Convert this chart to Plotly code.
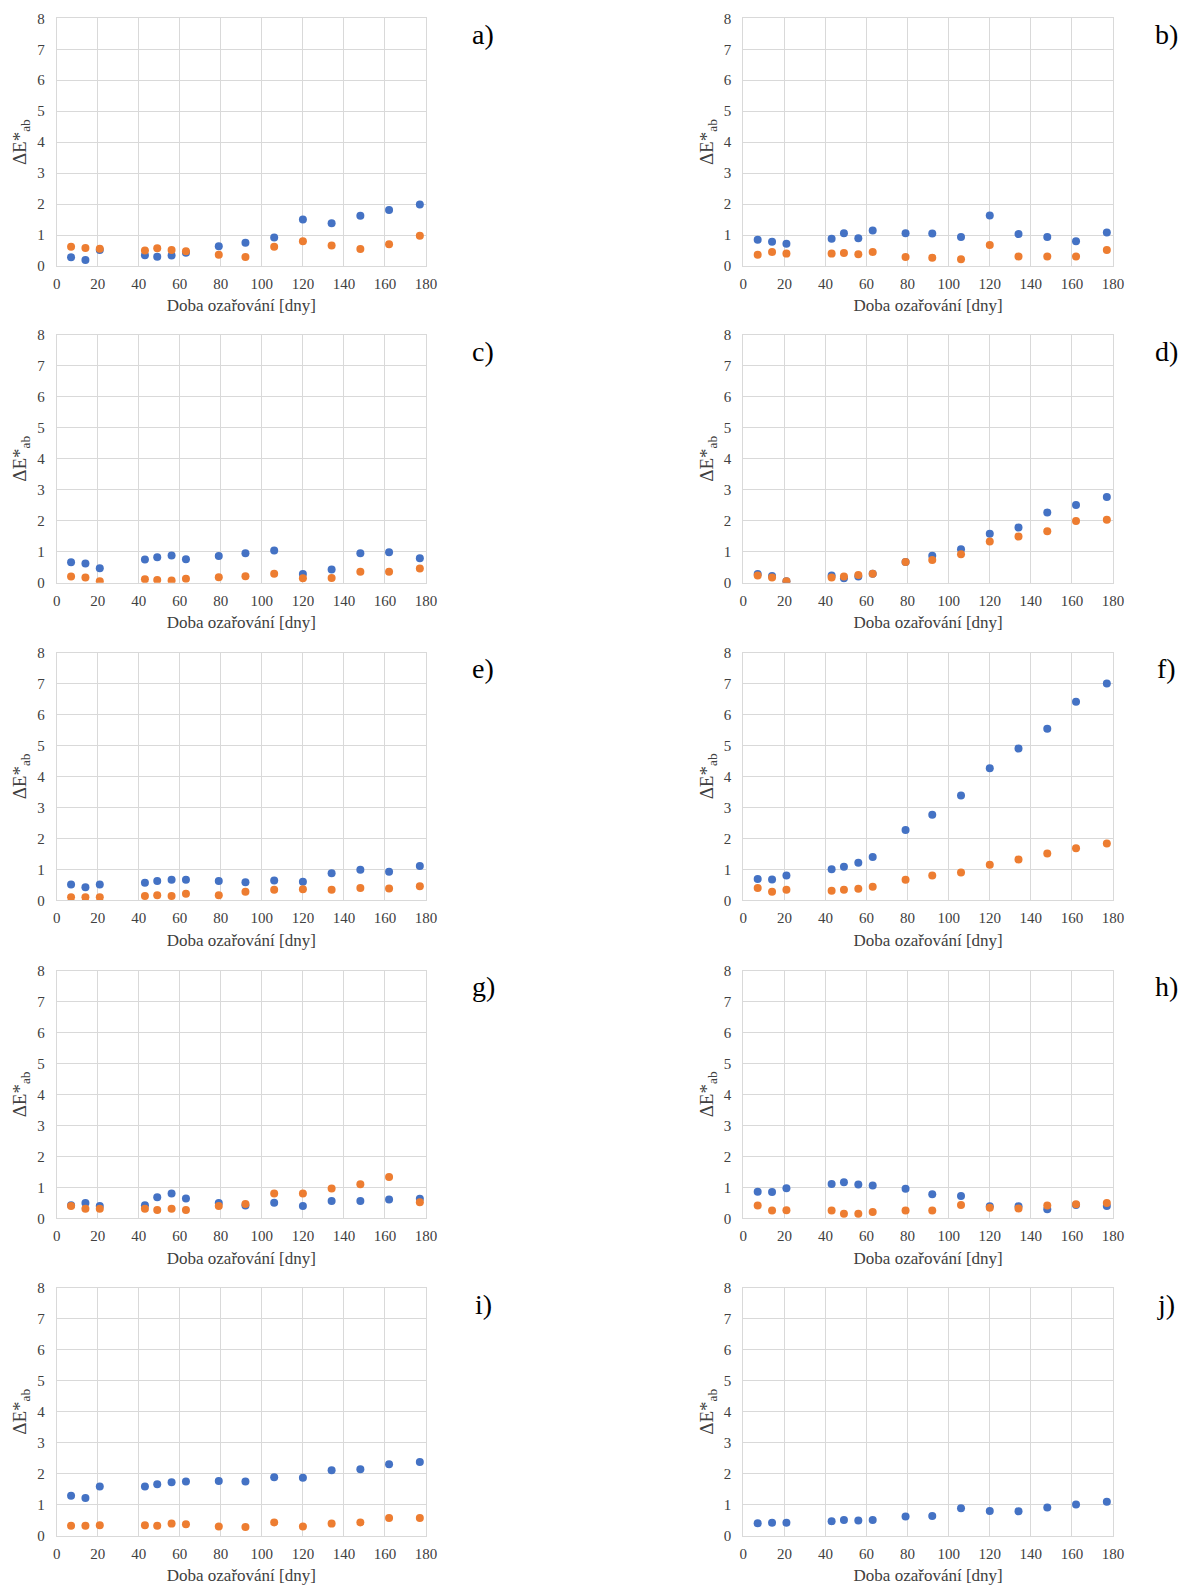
import plotly.graph_objects as go

W, H = 1185, 1585

days = [7, 14, 21, 43, 49, 56, 63, 79, 92, 106, 120, 134, 148, 162, 177]
x_ticks = [0, 20, 40, 60, 80, 100, 120, 140, 160, 180]
y_ticks = [0, 1, 2, 3, 4, 5, 6, 7, 8]
panel_labels = ["a)", "b)", "c)", "d)", "e)", "f)", "g)", "h)", "i)", "j)"]
x_title = "Doba ozařování [dny]"
y_title = "ΔE*<sub>ab</sub>"

a_blue = [0.28, 0.19, 0.52, 0.35, 0.30, 0.34, 0.43, 0.64, 0.75, 0.92, 1.50, 1.38, 1.62, 1.81, 1.99]
a_orange = [0.62, 0.58, 0.56, 0.50, 0.57, 0.52, 0.48, 0.36, 0.29, 0.62, 0.80, 0.66, 0.55, 0.70, 0.98]
b_blue = [0.85, 0.78, 0.72, 0.88, 1.06, 0.90, 1.15, 1.06, 1.05, 0.94, 1.63, 1.03, 0.94, 0.80, 1.08]
b_orange = [0.36, 0.45, 0.40, 0.40, 0.42, 0.38, 0.45, 0.29, 0.27, 0.22, 0.68, 0.31, 0.31, 0.31, 0.52]
c_blue = [0.66, 0.62, 0.47, 0.75, 0.82, 0.88, 0.76, 0.86, 0.95, 1.04, 0.28, 0.43, 0.95, 0.98, 0.79]
c_orange = [0.20, 0.17, 0.05, 0.11, 0.09, 0.07, 0.13, 0.18, 0.21, 0.29, 0.14, 0.15, 0.35, 0.35, 0.46]
d_blue = [0.28, 0.22, 0.05, 0.23, 0.14, 0.20, 0.29, 0.67, 0.87, 1.08, 1.58, 1.78, 2.27, 2.51, 2.77]
d_orange = [0.23, 0.17, 0.05, 0.17, 0.20, 0.25, 0.29, 0.67, 0.73, 0.92, 1.33, 1.49, 1.66, 1.99, 2.03]
e_blue = [0.51, 0.42, 0.51, 0.57, 0.62, 0.66, 0.66, 0.62, 0.58, 0.64, 0.60, 0.87, 0.99, 0.92, 1.11]
e_orange = [0.10, 0.10, 0.10, 0.14, 0.16, 0.14, 0.21, 0.16, 0.28, 0.34, 0.36, 0.34, 0.40, 0.38, 0.45]
f_blue = [0.69, 0.67, 0.80, 1.00, 1.08, 1.21, 1.40, 2.27, 2.76, 3.38, 4.26, 4.90, 5.54, 6.41, 7.00]
f_orange = [0.40, 0.28, 0.34, 0.31, 0.34, 0.37, 0.44, 0.66, 0.80, 0.90, 1.15, 1.32, 1.51, 1.68, 1.83]
g_blue = [0.42, 0.49, 0.40, 0.42, 0.68, 0.80, 0.64, 0.49, 0.41, 0.50, 0.40, 0.56, 0.56, 0.61, 0.63]
g_orange = [0.40, 0.31, 0.31, 0.31, 0.27, 0.31, 0.27, 0.40, 0.46, 0.80, 0.80, 0.96, 1.10, 1.33, 0.52]
h_blue = [0.86, 0.85, 0.97, 1.11, 1.16, 1.09, 1.06, 0.95, 0.78, 0.72, 0.39, 0.39, 0.29, 0.43, 0.40]
h_orange = [0.41, 0.25, 0.26, 0.25, 0.15, 0.15, 0.20, 0.25, 0.25, 0.43, 0.34, 0.32, 0.41, 0.45, 0.49]
i_blue = [1.29, 1.22, 1.59, 1.59, 1.66, 1.73, 1.75, 1.77, 1.75, 1.89, 1.87, 2.11, 2.15, 2.31, 2.38]
i_orange = [0.32, 0.32, 0.34, 0.34, 0.32, 0.39, 0.37, 0.30, 0.28, 0.43, 0.30, 0.39, 0.43, 0.57, 0.57]
j_blue = [0.40, 0.42, 0.42, 0.47, 0.51, 0.49, 0.51, 0.62, 0.64, 0.89, 0.80, 0.79, 0.91, 1.01, 1.10]

blue_series = [a_blue, b_blue, c_blue, d_blue, e_blue, f_blue, g_blue, h_blue, i_blue, j_blue]
orange_series = [a_orange, b_orange, c_orange, d_orange, e_orange, f_orange, g_orange, h_orange, i_orange, None]

BLUE = "#4472C4"
ORANGE = "#ED7D31"
GRID = "#D9D9D9"
FONT = "Liberation Serif, Times New Roman, serif"
TXT = "#404040"

col_x = [(56.7, 426.0), (743.3, 1113.0)]
row_y = [(18.3, 266.0), (335.0, 582.7), (652.5, 900.3), (970.5, 1218.3), (1288.0, 1535.7)]
label_x = [483, 1166]

fig = go.Figure()
layout = dict(
    width=W, height=H,
    margin=dict(l=0, r=0, t=0, b=0, autoexpand=False),
    paper_bgcolor="white", plot_bgcolor="white",
    showlegend=False,
    font=dict(family=FONT, color=TXT, size=15),
)
annotations = []

for k in range(10):
    r, c = divmod(k, 2)
    x0, x1 = col_x[c]
    yt, yb = row_y[r]
    n = k + 1
    xa = "x" if n == 1 else f"x{n}"
    ya = "y" if n == 1 else f"y{n}"
    fig.add_trace(go.Scatter(x=days, y=blue_series[k], mode="markers",
                             marker=dict(color=BLUE, size=8), xaxis=xa, yaxis=ya))
    if orange_series[k] is not None:
        fig.add_trace(go.Scatter(x=days, y=orange_series[k], mode="markers",
                                 marker=dict(color=ORANGE, size=8), xaxis=xa, yaxis=ya))
    xkey = "xaxis" if n == 1 else f"xaxis{n}"
    ykey = "yaxis" if n == 1 else f"yaxis{n}"
    layout[xkey] = dict(
        domain=[x0 / W, x1 / W], anchor=ya, range=[0, 180], automargin=False,
        tickvals=x_ticks, showgrid=True, gridcolor=GRID, gridwidth=1,
        showline=True, linecolor=GRID, mirror=True, zeroline=False,
        ticks="outside", ticklen=4, tickcolor="rgba(0,0,0,0)",
        tickfont=dict(size=15, color=TXT, family=FONT),
        title=dict(text=x_title, font=dict(size=17, color=TXT, family=FONT), standoff=8),
    )
    layout[ykey] = dict(
        domain=[1 - yb / H, 1 - yt / H], anchor=xa, range=[0, 8], automargin=False,
        tickvals=y_ticks, showgrid=True, gridcolor=GRID, gridwidth=1,
        showline=True, linecolor=GRID, mirror=True, zeroline=False,
        ticks="outside", ticklen=8, tickcolor="rgba(0,0,0,0)",
        tickfont=dict(size=15, color=TXT, family=FONT),
        title=dict(text=y_title, font=dict(size=19, color=TXT, family=FONT), standoff=5),
    )
    annotations.append(dict(
        text=panel_labels[k], xref="paper", yref="paper",
        x=label_x[c] / W, y=1 - (yt + 16) / H, xanchor="center", yanchor="middle",
        showarrow=False, font=dict(size=28, color="black", family=FONT),
    ))

layout["annotations"] = annotations
fig.update_layout(**layout)
fig.write_html("out.html", config={"displayModeBar": False},
               post_script="document.body.style.margin='0';document.body.style.padding='0';")
